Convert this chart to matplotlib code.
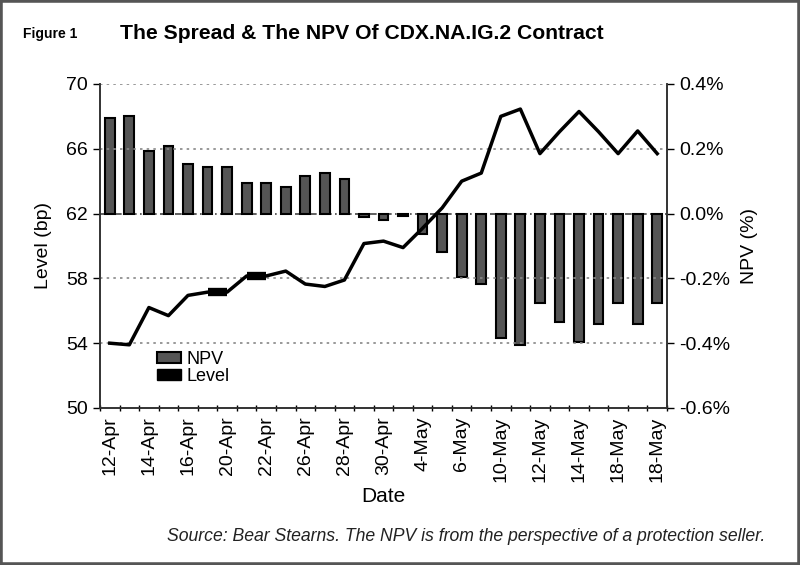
import numpy as np
import matplotlib
matplotlib.use("Agg")
import matplotlib.pyplot as plt
from matplotlib.patches import Patch, Rectangle

plt.rcParams['font.family'] = ['Liberation Sans', 'DejaVu Sans']

# data
dates = ["12-Apr", "13-Apr", "14-Apr", "15-Apr", "16-Apr", "19-Apr", "20-Apr", "21-Apr",
         "22-Apr", "23-Apr", "26-Apr", "27-Apr", "28-Apr", "29-Apr", "30-Apr", "3-May",
         "4-May", "5-May", "6-May", "7-May", "10-May", "11-May", "12-May", "13-May",
         "14-May", "17-May", "18-May", "19-May", "18-May"]
tick_labels = ["12-Apr", "14-Apr", "16-Apr", "20-Apr", "22-Apr", "26-Apr", "28-Apr", "30-Apr",
               "4-May", "6-May", "10-May", "12-May", "14-May", "18-May", "18-May"]
npv = [0.296, 0.302, 0.194, 0.21, 0.153, 0.145, 0.145, 0.093, 0.093, 0.082, 0.117, 0.124,
       0.108, -0.01, -0.02, -0.008, -0.063, -0.119, -0.196, -0.218, -0.383, -0.406, -0.275,
       -0.336, -0.396, -0.342, -0.275, -0.342, -0.275]
level = [54.0, 53.9, 56.2, 55.7, 56.95, 57.15, 57.15, 58.15, 58.15, 58.45, 57.65, 57.5,
         57.9, 60.15, 60.3, 59.9, 61.1, 62.35, 64.0, 64.5, 68.0, 68.45, 65.7, 67.05, 68.3,
         67.05, 65.7, 67.1, 65.7]

x = np.arange(len(dates))

fig = plt.figure(figsize=(8, 5.65), dpi=100)
ax1 = fig.add_axes([0.125, 0.2779, 0.70875, 0.5735])
ax2 = ax1.twinx()

# NPV bars on the right axis, drawn behind the level line
ax2.bar(x, npv, width=0.5, color="#555555", edgecolor="black", linewidth=1.5)
ax2.axhline(0, color="#444444", lw=1.2, ls=(0, (4, 2, 1, 2)), zorder=0)
ax2.set_ylim(-0.6, 0.4)
ax2.set_yticks([-0.6, -0.4, -0.2, 0.0, 0.2, 0.4])
ax2.set_yticklabels(["%.1f%%" % v for v in [-0.6, -0.4, -0.2, 0.0, 0.2, 0.4]])
ax2.set_ylabel("NPV (%)", fontsize=14, rotation=90, labelpad=8)

ax1.set_zorder(ax2.get_zorder() + 1)
ax1.patch.set_visible(False)
ax1.plot(x, level, color="black", lw=2.5, solid_joinstyle="round")
ax1.plot(x[5:7], level[5:7], color="black", lw=6, solid_capstyle="butt")
ax1.plot(x[7:9], level[7:9], color="black", lw=6, solid_capstyle="butt")
ax1.set_ylim(50, 70)
ax1.set_yticks([50, 54, 58, 62, 66, 70])
ax1.set_ylabel("Level (bp)", fontsize=14, labelpad=10)
for v in [54, 58, 66, 70]:
    ax1.axhline(v, color="#888888", lw=1.2, ls=(0, (1.5, 2.5)), zorder=0)

ax1.set_xlim(-0.5, len(dates) - 0.5)
ax1.set_xticks(x[::2])
ax1.set_xticklabels(tick_labels, rotation=90)
ax1.set_xticks(np.arange(len(dates) + 1) - 0.5, minor=True)
ax1.tick_params(axis="x", which="major", length=0, labelsize=14, pad=6)
ax1.tick_params(axis="x", which="minor", length=5, direction="inout", width=1)
ax1.tick_params(axis="y", labelsize=14, length=5, width=1)
ax2.tick_params(axis="y", labelsize=14, length=5, width=1)
ax1.set_xlabel("Date", fontsize=15, labelpad=4)

for a in (ax1, ax2):
    a.spines["top"].set_visible(False)
    for s in ("left", "right", "bottom"):
        a.spines[s].set_color("#333333")
        a.spines[s].set_linewidth(1.2)

handles = [Patch(facecolor="#555555", edgecolor="black", linewidth=1.5),
           Patch(facecolor="black", edgecolor="black")]
ax1.legend(handles, ["NPV", "Level"], loc="upper left", bbox_to_anchor=(0.085, 0.205),
           frameon=False, fontsize=13, handlelength=1.3, handleheight=0.55,
           labelspacing=0.0, handletextpad=0.3, borderpad=0)

fig.text(0.029, 0.94, "Figure 1", fontsize=10, fontweight="bold", va="center")
fig.text(0.15, 0.94, "The Spread & The NPV Of CDX.NA.IG.2 Contract", fontsize=15.2,
         fontweight="bold", va="center")
fig.text(0.956, 0.051, "Source: Bear Stearns. The NPV is from the perspective of a protection seller.",
         fontsize=12.7, style="italic", ha="right", va="center", color="#222222")

fig.patches.append(Rectangle((0, 0), 1, 1, transform=fig.transFigure, fill=False,
                             edgecolor="#555555", lw=4))

fig.savefig("out.png", dpi=100)
plt.close()
